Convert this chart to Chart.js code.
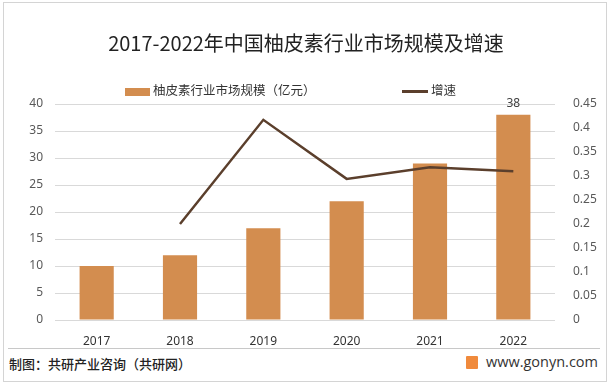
<!DOCTYPE html>
<html>
<head>
<meta charset="utf-8">
<script src="https://cdn.jsdelivr.net/npm/chart.js@4.4.0/dist/chart.umd.min.js"></script>
<style>
  body { margin: 0; background: #fff; font-family: "Noto Sans CJK SC", "Microsoft YaHei", sans-serif; }
  #wrap { position: relative; width: 612px; height: 387px; overflow: hidden; }
  #frame { position: absolute; left: 3px; top: 2px; width: 604px; height: 380px; border: 1px solid #d4d4d4; box-sizing: border-box; }
  #chartBox { position: absolute; left: 0; top: 0; width: 612px; height: 347px; }
  #title { position: absolute; left: 0; width: 612px; top: 28px; text-align: center; font-size: 20px; color: #222; }
  .leg { position: absolute; top: 80px; font-size: 12.5px; color: #333; white-space: nowrap; }
  .sw { display: inline-block; vertical-align: middle; margin-right: 3px; }
  #sep { position: absolute; left: 8px; top: 348px; width: 592px; height: 1px; background: #c8c8c8; }
  #src { position: absolute; left: 9px; top: 354px; font-size: 13px; color: #222; font-weight: 500; }
  #site { position: absolute; right: 14px; top: 352px; font-size: 14.5px; color: #333; font-family: "Open Sans", sans-serif; }
  #logo { display: inline-block; width: 12px; height: 13px; background: #f08a3c; vertical-align: -2px; margin-right: 8px; border-radius: 1px; }
</style>
</head>
<body>
<div id="wrap">
  <div id="frame"></div>
  <div id="chartBox"><canvas id="c"></canvas></div>
  <div id="title">2017-2022年中国柚皮素行业市场规模及增速</div>
  <div class="leg" style="left:125px"><span class="sw" style="width:25px;height:8px;background:#d38d4f"></span>柚皮素行业市场规模（亿元）</div>
  <div class="leg" style="left:402px"><span class="sw" style="width:26px;height:3px;background:#5b3f2c"></span>增速</div>
  <div id="sep"></div>
  <div id="src">制图：共研产业咨询（共研网）</div>
  <div id="site"><span id="logo"></span>www.gonyn.com</div>
</div>
<script>
// 数据
const years = ["2017", "2018", "2019", "2020", "2021", "2022"];
const marketSize = [10, 12, 17, 22, 29, 38];
const growthRate = [null, 0.2, 0.417, 0.294, 0.318, 0.31];
const leftTicks = [0, 5, 10, 15, 20, 25, 30, 35, 40];
const rightTicks = [0, 0.05, 0.1, 0.15, 0.2, 0.25, 0.3, 0.35, 0.4, 0.45];

// 只标注最后一根柱子
const lastLabel = {
  id: "lastLabel",
  afterDatasetsDraw(chart) {
    const meta = chart.getDatasetMeta(1);
    const bar = meta.data[meta.data.length - 1];
    const c = chart.ctx;
    c.save();
    c.fillStyle = "#404040";
    c.font = "12px 'Noto Sans', sans-serif";
    c.textAlign = "center";
    c.textBaseline = "bottom";
    c.fillText(String(marketSize[marketSize.length - 1]), bar.x, bar.y - 5);
    c.restore();
  }
};

const ctx = document.getElementById("c").getContext("2d");
new Chart(ctx, {
  data: {
    labels: years,
    datasets: [{
      type: "line",
      label: "增速",
      data: growthRate,
      yAxisID: "y1",
      borderColor: "#5b3f2c",
      borderWidth: 2.5,
      pointRadius: 0,
      tension: 0,
      order: 0
    }, {
      type: "bar",
      label: "柚皮素行业市场规模（亿元）",
      data: marketSize,
      yAxisID: "y",
      backgroundColor: "#d38d4f",
      categoryPercentage: 1,
      barPercentage: 0.41,
      order: 1
    }]
  },
  options: {
    responsive: true,
    maintainAspectRatio: false,
    animation: false,
    layout: { padding: { top: 104, left: 0, right: 0, bottom: 0 } },
    plugins: {
      legend: { display: false },
      tooltip: { enabled: false }
    },
    scales: {
      x: {
        grid: { display: false },
        border: { display: false },
        ticks: { color: "#333", font: { size: 12, family: "'Noto Sans', sans-serif" }, padding: 6 },
        afterFit(s) { s.height = 27; }
      },
      y: {
        position: "left",
        min: 0, max: 40,
        afterBuildTicks(s) { s.ticks = leftTicks.map(v => ({ value: v })); },
        grid: { color: "#d9d9d9", drawTicks: false },
        border: { display: false },
        ticks: { color: "#595959", font: { size: 12, family: "'Noto Sans', sans-serif" }, padding: 12 },
        afterFit(s) { s.width = 55; }
      },
      y1: {
        position: "right",
        min: 0, max: 0.45,
        afterBuildTicks(s) { s.ticks = rightTicks.map(v => ({ value: v })); },
        grid: { display: false },
        border: { display: false },
        ticks: {
          color: "#595959", font: { size: 12, family: "'Noto Sans', sans-serif" }, padding: 10,
          callback: v => String(Math.round(v * 100) / 100)
        },
        afterFit(s) { s.width = 57; }
      }
    }
  },
  plugins: [lastLabel]
});
</script>
</body>
</html>
